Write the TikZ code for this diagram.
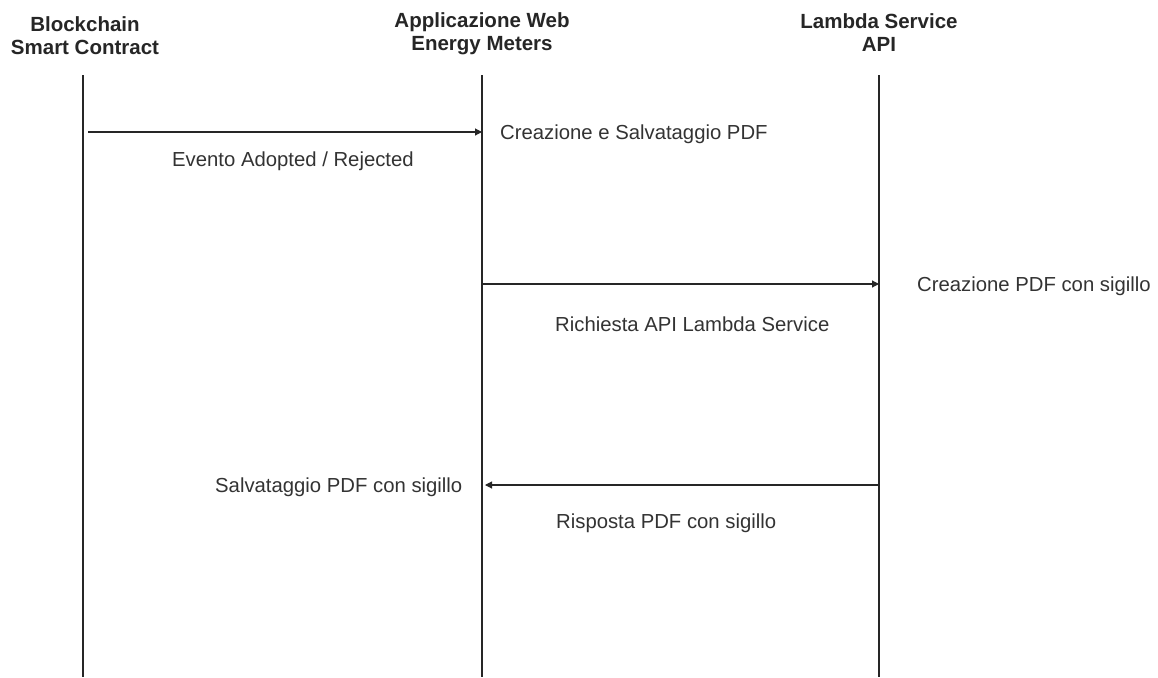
\documentclass[tikz,border=0pt]{standalone}
\usepackage{fontspec}
\setmainfont{Liberation Sans}
\usetikzlibrary{arrows.meta}
\definecolor{ink}{HTML}{262626}
\definecolor{txt}{HTML}{333333}
\tikzset{
  actor/.style={font=\fontsize{20.5}{23}\selectfont\bfseries, text=ink, align=center, inner sep=0pt},
  lifeline/.style={draw=ink, line width=1.2pt},
  msg/.style={draw=ink, line width=1.1pt, -{Triangle[length=7pt,width=7pt]}},
  lbl/.style={font=\fontsize{20.3}{23}\selectfont, text=txt, anchor=base west, inner sep=0pt},
}
\begin{document}
\begin{tikzpicture}[x=1pt,y=-1pt]
\useasboundingbox (0,0) rectangle (1158,677);
\fill[white] (0,0) rectangle (1158,677);

% participants
\node[actor] (bc)  at (85,36)  {Blockchain\\Smart Contract};
\node[actor] (web) at (482,34) {Applicazione Web\\Energy Meters};
\node[actor] (lam) at (879,33) {Lambda Service\\API};

% lifelines
\coordinate (bcTop)  at (83,75);   \coordinate (bcBot)  at (83,677);
\coordinate (webTop) at (482,75);  \coordinate (webBot) at (482,677);
\coordinate (lamTop) at (879,75);  \coordinate (lamBot) at (879,677);
\draw[lifeline] (bcTop) -- (bcBot);
\draw[lifeline] (webTop) -- (webBot);
\draw[lifeline] (lamTop) -- (lamBot);

% message end points
\coordinate (m1s) at (88,132);  \coordinate (m1e) at (482,132);
\coordinate (m2s) at (482,284); \coordinate (m2e) at (879,284);
\coordinate (m3s) at (879,485); \coordinate (m3e) at (485,485);

\draw[msg] (m1s) -- (m1e);
\draw[msg] (m2s) -- (m2e);
\draw[msg] (m3s) -- (m3e);

% labels
\node[lbl] (l1a) at (500,139) {Creazione e Salvataggio PDF};
\node[lbl] (l1b) at (172,166) {Evento Adopted / Rejected};
\node[lbl] (l2a) at (917,291) {Creazione PDF con sigillo};
\node[lbl] (l2b) at (555,331) {Richiesta API Lambda Service};
\node[lbl] (l3a) at (215,492) {Salvataggio PDF con sigillo};
\node[lbl] (l3b) at (556,528) {Risposta PDF con sigillo};
\end{tikzpicture}
\end{document}
